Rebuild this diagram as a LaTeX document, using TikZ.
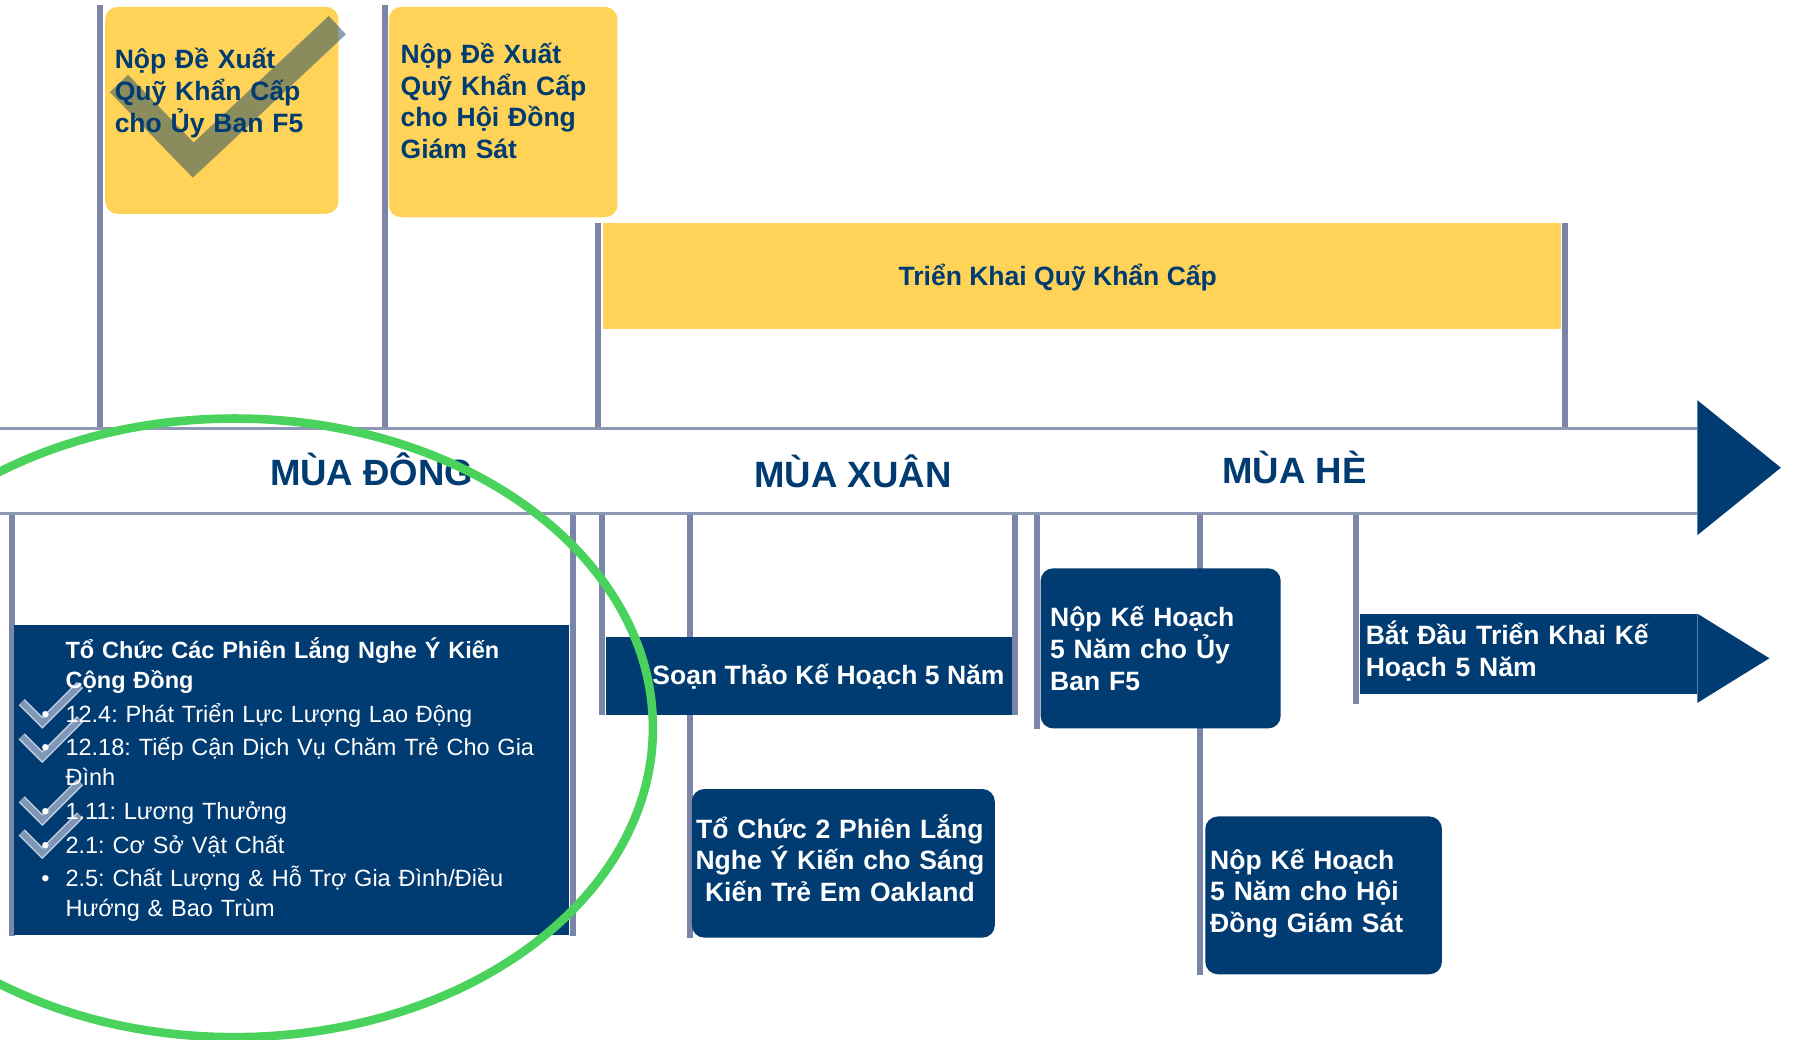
\documentclass[tikz,border=0pt]{standalone}
\usepackage{fontspec}
\setmainfont{Liberation Sans}
\usetikzlibrary{positioning,fit,calc,backgrounds}

\definecolor{navy}{RGB}{0,59,113}
\definecolor{gold}{RGB}{255,211,87}
\definecolor{polegray}{RGB}{122,133,168}
\definecolor{axisgray}{RGB}{142,152,182}
\definecolor{ringgreen}{RGB}{74,211,92}
\definecolor{ticklight}{RGB}{126,151,183}
\definecolor{tickedge}{RGB}{196,207,224}
\definecolor{tickdark}{RGB}{23,70,102}

\newcommand{\listdot}{\leavevmode\llap{•\hspace{8pt}}}

\tikzset{
  goldbox/.style={fill=gold, inner sep=0pt, rounded corners=0.22cm},
  navybox/.style={fill=navy, inner sep=0pt, rounded corners=0.22cm},
  flatbox/.style={fill=navy, inner sep=0pt},
  pole/.style={draw=polegray, line width=0.1cm},
  axisline/.style={draw=axisgray, line width=0.05cm},
  goldtxt/.style={text=navy, inner sep=0pt, anchor=base west, align=left, text width=4.4cm,
    font=\bfseries\fontsize{13.2}{15.8}\selectfont},
  navytxt/.style={goldtxt, text=white},
  season/.style={text=navy, inner sep=0pt, anchor=base, font=\bfseries\fontsize{18.2}{21}\selectfont},
  ring/.style={draw=ringgreen, line width=0.15cm}
}

\begin{document}
\frenchspacing
\begin{tikzpicture}[x=0.02cm, y=-0.02cm]
  \useasboundingbox (0,0) rectangle (1568,909);
  \clip (0,0) rectangle (1568,909);
  \begin{scope}[on background layer]
    \fill[white] (0,0) rectangle (1568,909);
  \end{scope}

  % timeline
  \node[fit={(0,375) (1484,449)}, inner sep=0pt] (tline) {};
  \draw[axisline] (tline.north west) -- (tline.north east);
  \draw[axisline] (tline.south west) -- (tline.south east);
  \fill[navy] (tline.east) ++(0,-62) -- ++(73,59) -- ++(-73,59) -- cycle;

  \node[season] (winter) at (325,425) {MÙA ĐÔNG};
  \node[season] (spring) at (746,426) {MÙA XUÂN};
  \node[season] (summer) at (1132,423) {MÙA HÈ};

  % boxes above
  \node[goldbox, fit={(92,6) (296,187)}] (propf5) {};
  \node[goldbox, fit={(340,6) (540,190)}] (propbos) {};
  \node[fill=gold, inner sep=0pt, fit={(527,195) (1365,288)}] (fund) {};

  \draw[draw=tickdark, draw opacity=0.5, line width=0.44cm, line join=miter]
    (104,73) -- (169,140) -- (295,22);

  \node[goldtxt] (propf5txt) at (100,60) {Nộp Đề Xuất\\Quỹ Khẩn Cấp\\cho Ủy Ban F5};
  \node[goldtxt] (propbostxt) at (350,55.5) {Nộp Đề Xuất\\Quỹ Khẩn Cấp\\cho Hội Đồng\\Giám Sát};
  \node[goldtxt, text width=, anchor=base] (fundtxt) at (925,250) {Triển Khai Quỹ Khẩn Cấp};

  % boxes below
  \node[flatbox, fit={(12,547) (498,818)}] (listen) {};
  \node[flatbox, fit={(530,557) (885,625)}] (draft) {};
  \node[navybox, fit={(605,690) (870,820)}] (oak) {};
  \node[navybox, fit={(910,497) (1120,637)}] (planf5) {};
  \node[navybox, fit={(1054,714) (1261,852)}] (planbos) {};
  \node[flatbox, fit={(1189,537) (1484,607)}] (start) {};
  \fill[navy] (start.north east) -- ++(63,39) -- ++(-63,39) -- cycle;

  \foreach \by in {623,653,708,737}{
    \draw[tickedge, line width=0.15cm, line join=miter] (19,{\by-9}) -- (37,{\by+9}) -- (70,{\by-24});
    \draw[ticklight, line width=0.1cm, line join=miter] (19,{\by-9}) -- (37,{\by+9}) -- (70,{\by-24});
  }

  \node[navytxt, text width=9.6cm, font=\fontsize{11.7}{14.8}\selectfont] (listentxt) at (57,576)
    {\textbf{Tổ Chức Các Phiên Lắng Nghe Ý Kiến}\\\textbf{Cộng Đồng}\\[2pt]
     \listdot 12.4: Phát Triển Lực Lượng Lao Động\\[2pt]
     \listdot 12.18: Tiếp Cận Dịch Vụ Chăm Trẻ Cho Gia\\Đình\\[2pt]
     \listdot 1.11: Lương Thưởng\\[2pt]
     \listdot 2.1: Cơ Sở Vật Chất\\[2pt]
     \listdot 2.5: Chất Lượng \& Hỗ Trợ Gia Đình/Điều\\Hướng \& Bao Trùm};
  \node[navytxt, text width=, anchor=base] (drafttxt) at (724.5,599) {Soạn Thảo Kế Hoạch 5 Năm};
  \node[navytxt, text width=6cm, align=center, anchor=base] (oaktxt) at (734.5,733)
    {Tổ Chức 2 Phiên Lắng\\Nghe Ý Kiến cho Sáng\\Kiến Trẻ Em Oakland};
  \node[navytxt] (planf5txt) at (918,548) {Nộp Kế Hoạch\\5 Năm cho Ủy\\Ban F5};
  \node[navytxt] (planbostxt) at (1058,760) {Nộp Kế Hoạch\\5 Năm cho Hội\\Đồng Giám Sát};
  \node[navytxt, text width=6cm] (starttxt) at (1194,563.5) {Bắt Đầu Triển Khai Kế\\Hoạch 5 Năm};

  % poles
  \coordinate (pA) at ($(propf5.north west)+(-4,-1)$);
  \coordinate (pB) at ($(propbos.north west)+(-3,-1)$);
  \coordinate (pC) at ($(fund.north west)+(-4,0)$);
  \coordinate (pD) at ($(fund.north east)+(3,0)$);
  \coordinate (pE) at ($(listen.south west)+(-1,0)$);
  \coordinate (pF) at ($(listen.south east)+(3,0)$);
  \coordinate (pG) at ($(draft.south west)+(-3,0)$);
  \coordinate (pH) at ($(oak.south west)+(-1,0)$);
  \coordinate (pI) at ($(draft.south east)+(2,0)$);
  \coordinate (pJ) at ($(planf5.south west)+(-3,0)$);
  \coordinate (pK) at ($(planbos.south west)+(-4,0)$);
  \coordinate (pL) at ($(start.south west)+(-3,8)$);
  \begin{scope}[on background layer]
    \foreach \p in {pA,pB,pC,pD}
      \draw[pole] (\p) -- (\p |- tline.north);
    \foreach \p in {pE,pF,pG,pH,pI,pJ,pK,pL}
      \draw[pole] (\p |- tline.south) -- (\p);
  \end{scope}

  \draw[ring] (205,636.5) ellipse [x radius=366, y radius=270.5];
\end{tikzpicture}
\end{document}
